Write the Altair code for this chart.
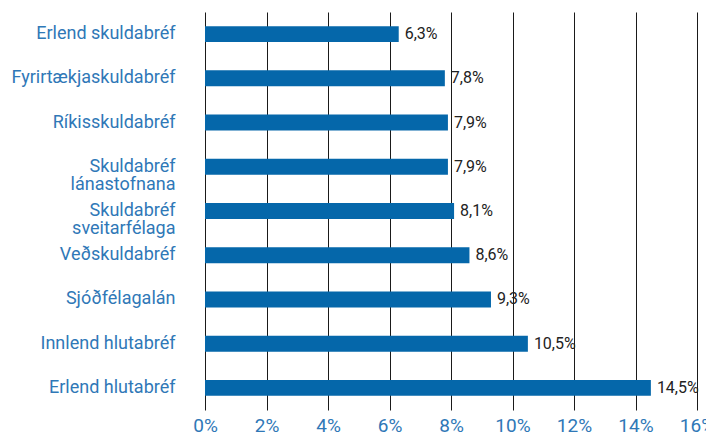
import altair as alt
import pandas as pd

categories = [
    "Erlend skuldabréf",
    "Fyrirtækjaskuldabréf",
    "Ríkisskuldabréf",
    "Skuldabréf lánastofnana",
    "Skuldabréf sveitarfélaga",
    "Veðskuldabréf",
    "Sjóðfélagalán",
    "Innlend hlutabréf",
    "Erlend hlutabréf",
]
values = [6.3, 7.8, 7.9, 7.9, 8.1, 8.6, 9.3, 10.5, 14.5]
x_ticks = [0, 2, 4, 6, 8, 10, 12, 14, 16]

df = pd.DataFrame({"cat": categories, "val": values})

BLUE_TEXT = "#2f78b7"
BAR = "#0567aa"

y_enc = alt.Y(
    "cat:N",
    sort=categories,
    title=None,
    scale=alt.Scale(paddingInner=0.64, paddingOuter=0.32),
    axis=alt.Axis(
        ticks=False,
        domain=False,
        labelPadding=30,
        labelFontSize=18,
        labelFont="Roboto",
        labelColor=BLUE_TEXT,
        labelLineHeight=18,
        labelLimit=300,
        labelExpr="indexof(datum.value, 'Skuldabréf ') == 0 ? split(datum.value, ' ') : datum.value",
    ),
)

x_enc = alt.X(
    "val:Q",
    title=None,
    scale=alt.Scale(domain=[0, 16], nice=False),
    axis=alt.Axis(
        values=x_ticks,
        ticks=False,
        domain=False,
        grid=True,
        gridColor="#1a1a1a",
        gridWidth=1,
        gridOpacity=1,
        labelFlush=False,
        labelPadding=6,
        labelFontSize=19,
        labelFont="Roboto",
        labelColor=BLUE_TEXT,
        labelExpr="datum.value + '%'",
    ),
)

bars = alt.Chart(df).mark_bar(color=BAR).encode(x=x_enc, y=y_enc)

labels = (
    alt.Chart(df)
    .transform_calculate(lbl="replace(format(datum.val, '.1f'), '.', ',') + '%'")
    .mark_text(align="left", baseline="middle", dx=6, fontSize=16, font="Roboto", color="#222222")
    .encode(x="val:Q", y=alt.Y("cat:N", sort=categories), text="lbl:N")
)

chart = (
    alt.layer(bars, labels)
    .properties(
        width=492,
        height=398,
        autosize=alt.AutoSizeParams(type="none"),
        padding={"left": 197, "top": 4, "right": 9, "bottom": 22},
    )
    .configure_view(stroke=None)
)

chart.save("out.html", embed_options={"renderer": "svg", "actions": False})
